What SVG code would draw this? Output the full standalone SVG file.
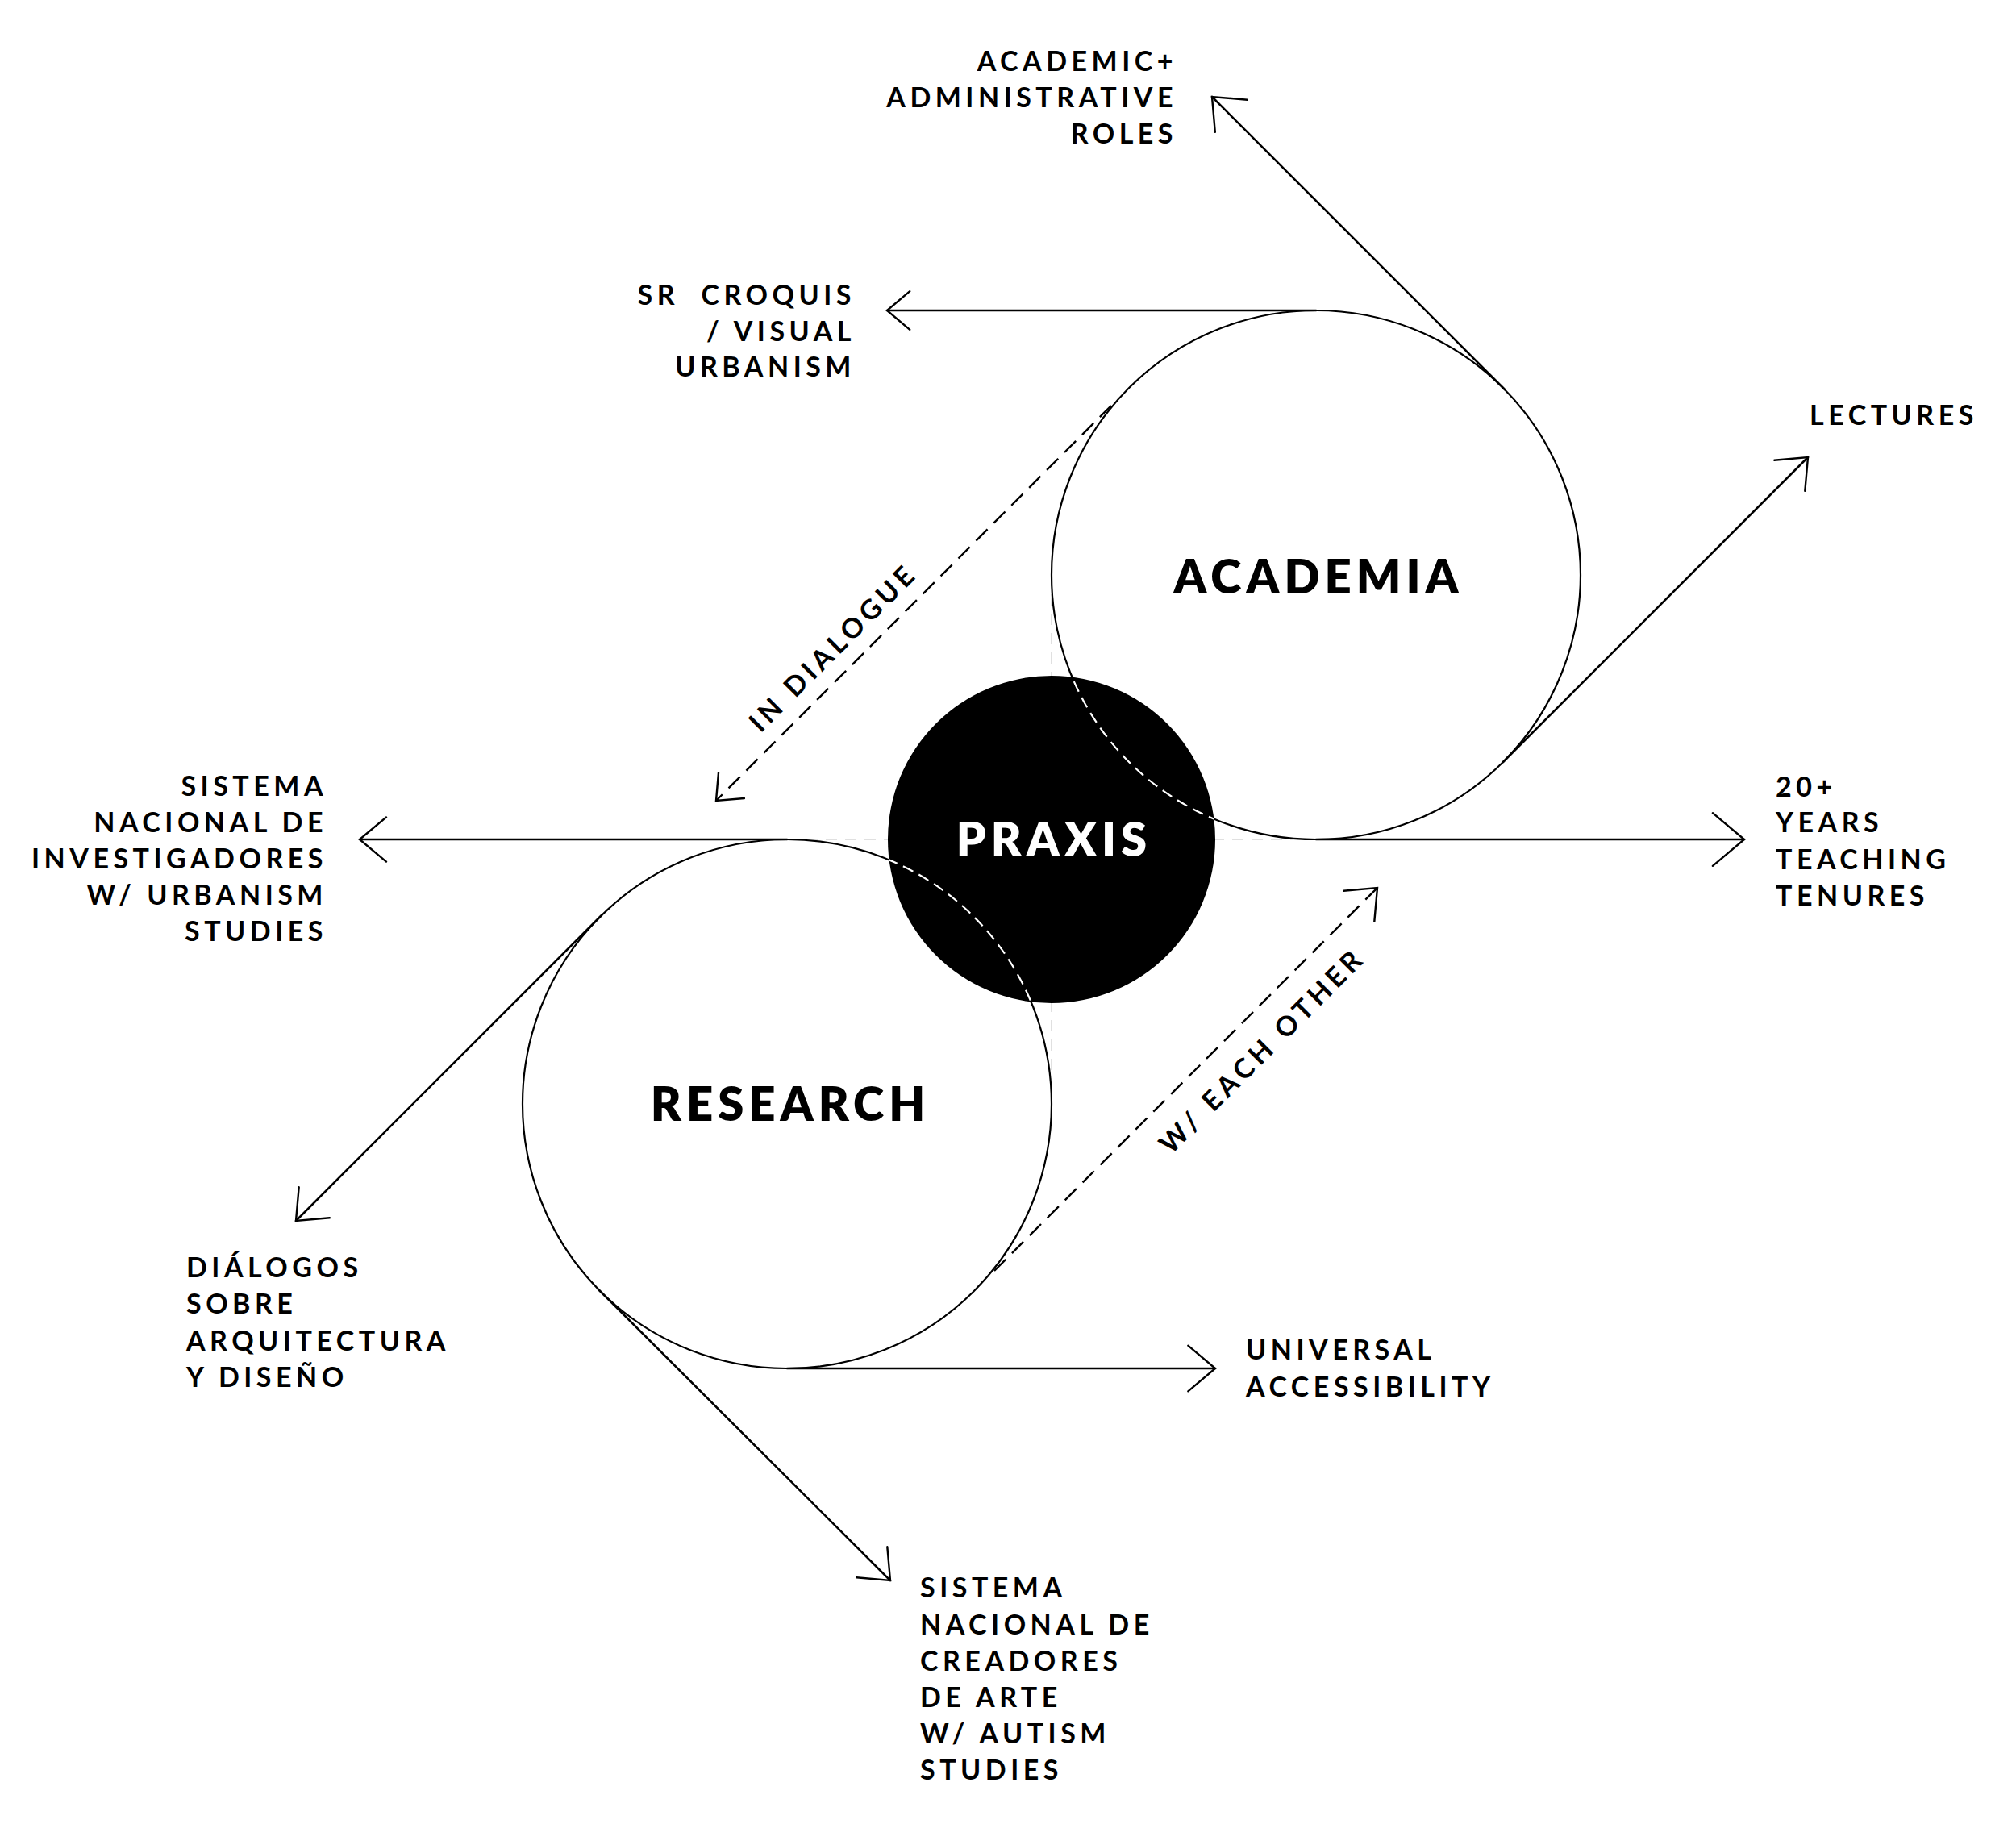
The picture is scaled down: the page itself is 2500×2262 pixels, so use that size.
<svg xmlns="http://www.w3.org/2000/svg" width="2500" height="2262" viewBox="0 0 2500 2262">
  <style>
    .bg { fill: #ffffff; }
    .ring { fill: none; stroke: #000; stroke-width: 2.2; }
    .guide { fill: none; stroke: #d6d6d6; stroke-width: 1.5; stroke-dasharray: 14 10; }
    .line { fill: none; stroke: #000; stroke-width: 2.6; stroke-linecap: round; }
    .dash { fill: none; stroke: #000; stroke-width: 2.4; stroke-dasharray: 20 11; }
    .head { fill: none; stroke: #000; stroke-width: 2.4; stroke-linecap: round; stroke-linejoin: miter; }
    .inner { fill: none; stroke: #fff; stroke-width: 2.2; stroke-dasharray: 14 8; }
    .lbl { font-family: Lato, "Liberation Sans", sans-serif; font-weight: 700; font-size: 34px; letter-spacing: 5.5px; fill: #000; }
    .big { font-family: Lato, "Liberation Sans", sans-serif; font-weight: 800; font-size: 58px; letter-spacing: 6px; fill: #000; text-anchor: middle; }
    .end { text-anchor: end; }
    .mid { text-anchor: middle; }
  </style>
  <defs>
    <clipPath id="praxisClip">
      <circle cx="1304" cy="1041" r="203"/>
    </clipPath>
  </defs>
  <rect class="bg" x="0" y="0" width="2500" height="2262"/>

  <g id="guides">
    <line class="guide" x1="976" y1="1041" x2="1632" y2="1041"/>
    <line class="guide" x1="1304" y1="713" x2="1304" y2="1369"/>
  </g>

  <g id="node-academia">
    <circle class="ring" cx="1632" cy="713" r="328"/>
    <text class="big" x="1635" y="736">ACADEMIA</text>
  </g>

  <g id="node-research">
    <circle class="ring" cx="976" cy="1369" r="328"/>
    <text class="big" x="980" y="1390">RESEARCH</text>
  </g>

  <g id="connectors">
    <!-- SR CROQUIS -->
    <line class="line" x1="1632" y1="385" x2="1100" y2="385"/>
    <polyline class="head" points="1128.3,361.2 1100,385 1128.3,408.8"/>
    <!-- ACADEMIC+ ADMINISTRATIVE ROLES -->
    <line class="line" x1="1866" y1="483" x2="1503" y2="120"/>
    <polyline class="head" points="1546.8,123.8 1503,120 1506.8,163.8"/>
    <!-- LECTURES -->
    <line class="line" x1="1864" y1="945" x2="2242" y2="567"/>
    <polyline class="head" points="2200.2,570.7 2242,567 2238.3,608.8"/>
    <!-- 20+ YEARS -->
    <line class="line" x1="1632" y1="1041" x2="2163" y2="1041"/>
    <polyline class="head" points="2123.9,1008.2 2163,1041 2123.9,1073.8"/>
    <!-- SISTEMA NACIONAL DE INVESTIGADORES -->
    <line class="line" x1="976" y1="1041" x2="446" y2="1041"/>
    <polyline class="head" points="479,1013.4 446,1041 479,1068.6"/>
    <!-- UNIVERSAL ACCESSIBILITY -->
    <line class="line" x1="976" y1="1697" x2="1507" y2="1697"/>
    <polyline class="head" points="1473.3,1668.7 1507,1697 1473.3,1725.3"/>
    <!-- SISTEMA NACIONAL DE CREADORES -->
    <line class="line" x1="742" y1="1599" x2="1104" y2="1960"/>
    <polyline class="head" points="1100.3,1918.2 1104,1960 1062.2,1956.3"/>
    <!-- DIALOGOS -->
    <line class="line" x1="746" y1="1135" x2="367" y2="1514"/>
    <polyline class="head" points="370.7,1472.2 367,1514 408.8,1510.3"/>
    <!-- IN DIALOGUE (dashed) -->
    <line class="dash" x1="1378" y1="503" x2="888" y2="993"/>
    <polyline class="head" points="891,958.1 888,993 922.9,990"/>
    <!-- W/ EACH OTHER (dashed) -->
    <line class="dash" x1="1233" y1="1576" x2="1708" y2="1101"/>
    <polyline class="head" points="1666.2,1104.7 1708,1101 1704.3,1142.8"/>
  </g>

  <g id="node-praxis">
    <circle cx="1304" cy="1041" r="203" fill="#000"/>
    <g clip-path="url(#praxisClip)">
      <circle class="inner" cx="1632" cy="713" r="328"/>
      <circle class="inner" cx="976" cy="1369" r="328"/>
    </g>
    <text class="big" x="1307" y="1062" style="fill:#fff">PRAXIS</text>
  </g>

  <g id="label-academic-roles">
    <text class="lbl end" x="1460" y="88">ACADEMIC+</text>
    <text class="lbl end" x="1460" y="133">ADMINISTRATIVE</text>
    <text class="lbl end" x="1460" y="178">ROLES</text>
  </g>

  <g id="label-sr-croquis">
    <text class="lbl end" x="1061" y="378" xml:space="preserve">SR  CROQUIS</text>
    <text class="lbl end" x="1061" y="423">/ VISUAL</text>
    <text class="lbl end" x="1061" y="467">URBANISM</text>
  </g>

  <g id="label-lectures">
    <text class="lbl" x="2244" y="527">LECTURES</text>
  </g>

  <g id="label-years">
    <text class="lbl" x="2202" y="988">20+</text>
    <text class="lbl" x="2202" y="1032">YEARS</text>
    <text class="lbl" x="2202" y="1078">TEACHING</text>
    <text class="lbl" x="2202" y="1123">TENURES</text>
  </g>

  <g id="label-investigadores">
    <text class="lbl end" x="406" y="987">SISTEMA</text>
    <text class="lbl end" x="406" y="1032">NACIONAL DE</text>
    <text class="lbl end" x="406" y="1077">INVESTIGADORES</text>
    <text class="lbl end" x="406" y="1122">W/ URBANISM</text>
    <text class="lbl end" x="406" y="1167">STUDIES</text>
  </g>

  <g id="label-dialogos">
    <text class="lbl" x="231" y="1584">DIÁLOGOS</text>
    <text class="lbl" x="231" y="1629">SOBRE</text>
    <text class="lbl" x="231" y="1675">ARQUITECTURA</text>
    <text class="lbl" x="231" y="1720">Y DISEÑO</text>
  </g>

  <g id="label-universal">
    <text class="lbl" x="1545" y="1686">UNIVERSAL</text>
    <text class="lbl" x="1545" y="1732">ACCESSIBILITY</text>
  </g>

  <g id="label-creadores">
    <text class="lbl" x="1141" y="1981">SISTEMA</text>
    <text class="lbl" x="1141" y="2027">NACIONAL DE</text>
    <text class="lbl" x="1141" y="2072">CREADORES</text>
    <text class="lbl" x="1141" y="2117">DE ARTE</text>
    <text class="lbl" x="1141" y="2162">W/ AUTISM</text>
    <text class="lbl" x="1141" y="2207">STUDIES</text>
  </g>

  <g id="label-in-dialogue" transform="translate(1031,805) rotate(-45)">
    <text class="lbl mid" x="3" y="12">IN DIALOGUE</text>
  </g>

  <g id="label-each-other" transform="translate(1563,1305) rotate(-45)">
    <text class="lbl mid" x="3" y="12">W/ EACH OTHER</text>
  </g>
</svg>
